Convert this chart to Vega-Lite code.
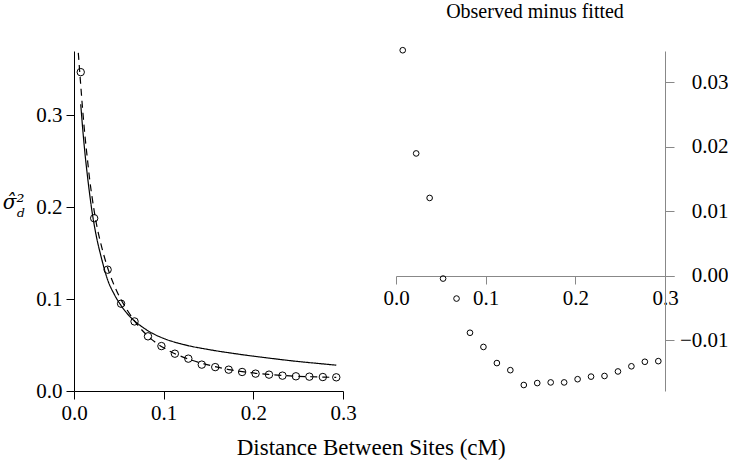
{
  "$schema": "https://vega.github.io/schema/vega-lite/v6.json",
  "padding": {"left": 2, "top": 2, "right": 0, "bottom": 0},
  "bounds": "flush",
  "spacing": 53,
  "config": {
    "font": "Liberation Serif",
    "view": {"stroke": null},
    "axis": {
      "grid": false,
      "labelFont": "Liberation Serif",
      "labelFontSize": 21,
      "labelColor": "black",
      "domainColor": "black",
      "tickColor": "black",
      "titleFont": "Liberation Serif",
      "titleFontWeight": "normal",
      "titleColor": "black",
      "labelFlush": false,
      "labelOverlap": false
    },
    "title": {"font": "Liberation Serif", "fontWeight": "normal", "color": "black"}
  },
  "title": {"text": "Distance Between Sites (cM)", "orient": "bottom", "anchor": "middle", "fontSize": 23, "offset": 14, "dx": 6},
  "datasets": {
    "obs": [
      {"x": 0.0075, "obs": 0.347, "resid": 0.0350},
      {"x": 0.0225, "obs": 0.188, "resid": 0.0190},
      {"x": 0.0375, "obs": 0.132, "resid": 0.0121},
      {"x": 0.0525, "obs": 0.095, "resid": -0.0004},
      {"x": 0.0675, "obs": 0.0757, "resid": -0.0035},
      {"x": 0.0825, "obs": 0.0595, "resid": -0.0088},
      {"x": 0.0975, "obs": 0.0489, "resid": -0.0110},
      {"x": 0.1125, "obs": 0.0406, "resid": -0.0135},
      {"x": 0.1275, "obs": 0.0352, "resid": -0.0146},
      {"x": 0.1425, "obs": 0.0287, "resid": -0.0169},
      {"x": 0.1575, "obs": 0.0260, "resid": -0.0166},
      {"x": 0.1725, "obs": 0.0232, "resid": -0.0165},
      {"x": 0.1875, "obs": 0.0207, "resid": -0.0165},
      {"x": 0.2025, "obs": 0.0189, "resid": -0.0160},
      {"x": 0.2175, "obs": 0.0178, "resid": -0.0156},
      {"x": 0.2325, "obs": 0.0167, "resid": -0.0155},
      {"x": 0.2475, "obs": 0.0160, "resid": -0.0148},
      {"x": 0.2625, "obs": 0.0156, "resid": -0.0140},
      {"x": 0.2775, "obs": 0.0152, "resid": -0.0133},
      {"x": 0.2925, "obs": 0.0149, "resid": -0.0132}
    ],
    "fit": [
      {"series": "model", "x": 0.0075, "y": 0.312},
      {"series": "model", "x": 0.01, "y": 0.282},
      {"series": "model", "x": 0.0125, "y": 0.256},
      {"series": "model", "x": 0.015, "y": 0.234},
      {"series": "model", "x": 0.0175, "y": 0.214},
      {"series": "model", "x": 0.02, "y": 0.196},
      {"series": "model", "x": 0.0225, "y": 0.181},
      {"series": "model", "x": 0.025, "y": 0.168},
      {"series": "model", "x": 0.03, "y": 0.147},
      {"series": "model", "x": 0.0375, "y": 0.121},
      {"series": "model", "x": 0.045, "y": 0.105},
      {"series": "model", "x": 0.0525, "y": 0.093},
      {"series": "model", "x": 0.0625, "y": 0.0808},
      {"series": "model", "x": 0.075, "y": 0.0705},
      {"series": "model", "x": 0.0875, "y": 0.0628},
      {"series": "model", "x": 0.1, "y": 0.0572},
      {"series": "model", "x": 0.115, "y": 0.0524},
      {"series": "model", "x": 0.13, "y": 0.0488},
      {"series": "model", "x": 0.145, "y": 0.0460},
      {"series": "model", "x": 0.16, "y": 0.0435},
      {"series": "model", "x": 0.175, "y": 0.0413},
      {"series": "model", "x": 0.19, "y": 0.0392},
      {"series": "model", "x": 0.21, "y": 0.0367},
      {"series": "model", "x": 0.23, "y": 0.0343},
      {"series": "model", "x": 0.25, "y": 0.0321},
      {"series": "model", "x": 0.27, "y": 0.0302},
      {"series": "model", "x": 0.2925, "y": 0.0281},
      {"series": "smooth", "x": 0.0048, "y": 0.368},
      {"series": "smooth", "x": 0.0075, "y": 0.333},
      {"series": "smooth", "x": 0.01, "y": 0.302},
      {"series": "smooth", "x": 0.0125, "y": 0.275},
      {"series": "smooth", "x": 0.015, "y": 0.252},
      {"series": "smooth", "x": 0.0175, "y": 0.230},
      {"series": "smooth", "x": 0.02, "y": 0.212},
      {"series": "smooth", "x": 0.0225, "y": 0.196},
      {"series": "smooth", "x": 0.025, "y": 0.182},
      {"series": "smooth", "x": 0.03, "y": 0.160},
      {"series": "smooth", "x": 0.035, "y": 0.142},
      {"series": "smooth", "x": 0.04, "y": 0.127},
      {"series": "smooth", "x": 0.05, "y": 0.104},
      {"series": "smooth", "x": 0.06, "y": 0.087},
      {"series": "smooth", "x": 0.07, "y": 0.073},
      {"series": "smooth", "x": 0.08, "y": 0.062},
      {"series": "smooth", "x": 0.09, "y": 0.0535},
      {"series": "smooth", "x": 0.1, "y": 0.047},
      {"series": "smooth", "x": 0.115, "y": 0.0395},
      {"series": "smooth", "x": 0.13, "y": 0.034},
      {"series": "smooth", "x": 0.145, "y": 0.0295},
      {"series": "smooth", "x": 0.16, "y": 0.026},
      {"series": "smooth", "x": 0.175, "y": 0.023},
      {"series": "smooth", "x": 0.19, "y": 0.0208},
      {"series": "smooth", "x": 0.205, "y": 0.019},
      {"series": "smooth", "x": 0.22, "y": 0.0178},
      {"series": "smooth", "x": 0.235, "y": 0.0168},
      {"series": "smooth", "x": 0.25, "y": 0.016},
      {"series": "smooth", "x": 0.265, "y": 0.0155},
      {"series": "smooth", "x": 0.28, "y": 0.0151},
      {"series": "smooth", "x": 0.2925, "y": 0.0148}
    ]
  },
  "hconcat": [
    {
      "width": 269,
      "height": 340,
      "layer": [
        {
          "data": {"name": "fit"},
          "mark": {"type": "line", "interpolate": "monotone", "strokeWidth": 1.2, "color": "black"},
          "encoding": {
            "x": {"field": "x", "type": "quantitative", "scale": {"domain": [0, 0.3], "nice": false, "zero": false},
              "axis": {"values": [0, 0.1, 0.2, 0.3], "format": ".1f", "tickSize": 8, "labelPadding": 3, "title": null}},
            "y": {"field": "y", "type": "quantitative", "scale": {"domain": [0, 0.37], "nice": false, "zero": false},
              "axis": {"values": [0, 0.1, 0.2, 0.3], "format": ".1f", "tickSize": 8, "labelPadding": 4,
                "title": ["σ̂²", "ᵈ"], "titleAngle": 0, "titleFontStyle": "italic", "titleFontSize": 20,
                "titleFont": "DejaVu Serif",
                "titleAlign": "right", "titleBaseline": "alphabetic", "titleX": -50, "titleY": 157, "titleLineHeight": 15}},
            "strokeDash": {"field": "series", "type": "nominal", "scale": {"domain": ["model", "smooth"], "range": [[1, 0], [7, 5]]}, "legend": null},
            "detail": {"field": "series"}
          }
        },
        {
          "data": {"name": "obs"},
          "mark": {"type": "point", "shape": "circle", "filled": false, "color": "black", "size": 55, "strokeWidth": 1, "opacity": 1},
          "encoding": {
            "x": {"field": "x", "type": "quantitative"},
            "y": {"field": "obs", "type": "quantitative"}
          }
        }
      ]
    },
    {
      "width": 278,
      "height": 340,
      "title": {"text": "Observed minus fitted", "fontSize": 20, "offset": 23, "anchor": "middle"},
      "data": {"name": "obs"},
      "mark": {"type": "point", "shape": "circle", "filled": false, "color": "black", "size": 32, "strokeWidth": 1, "opacity": 1},
      "encoding": {
        "x": {"field": "x", "type": "quantitative", "scale": {"domain": [0, 0.31], "nice": false, "zero": false},
          "axis": {"values": [0, 0.1, 0.2, 0.3], "format": ".1f", "offset": -115, "tickSize": 8, "labelPadding": 3,
            "domainColor": "#888", "tickColor": "#888", "title": null}},
        "y": {"field": "resid", "type": "quantitative", "scale": {"domain": [-0.01783, 0.03488], "nice": false, "zero": false},
          "axis": {"orient": "right", "offset": -9, "values": [-0.01, 0, 0.01, 0.02, 0.03], "format": ".2f",
            "tickSize": 9, "labelAlign": "right", "labelPadding": 54, "domainColor": "#888", "tickColor": "#888", "title": null}}
      }
    }
  ]
}
